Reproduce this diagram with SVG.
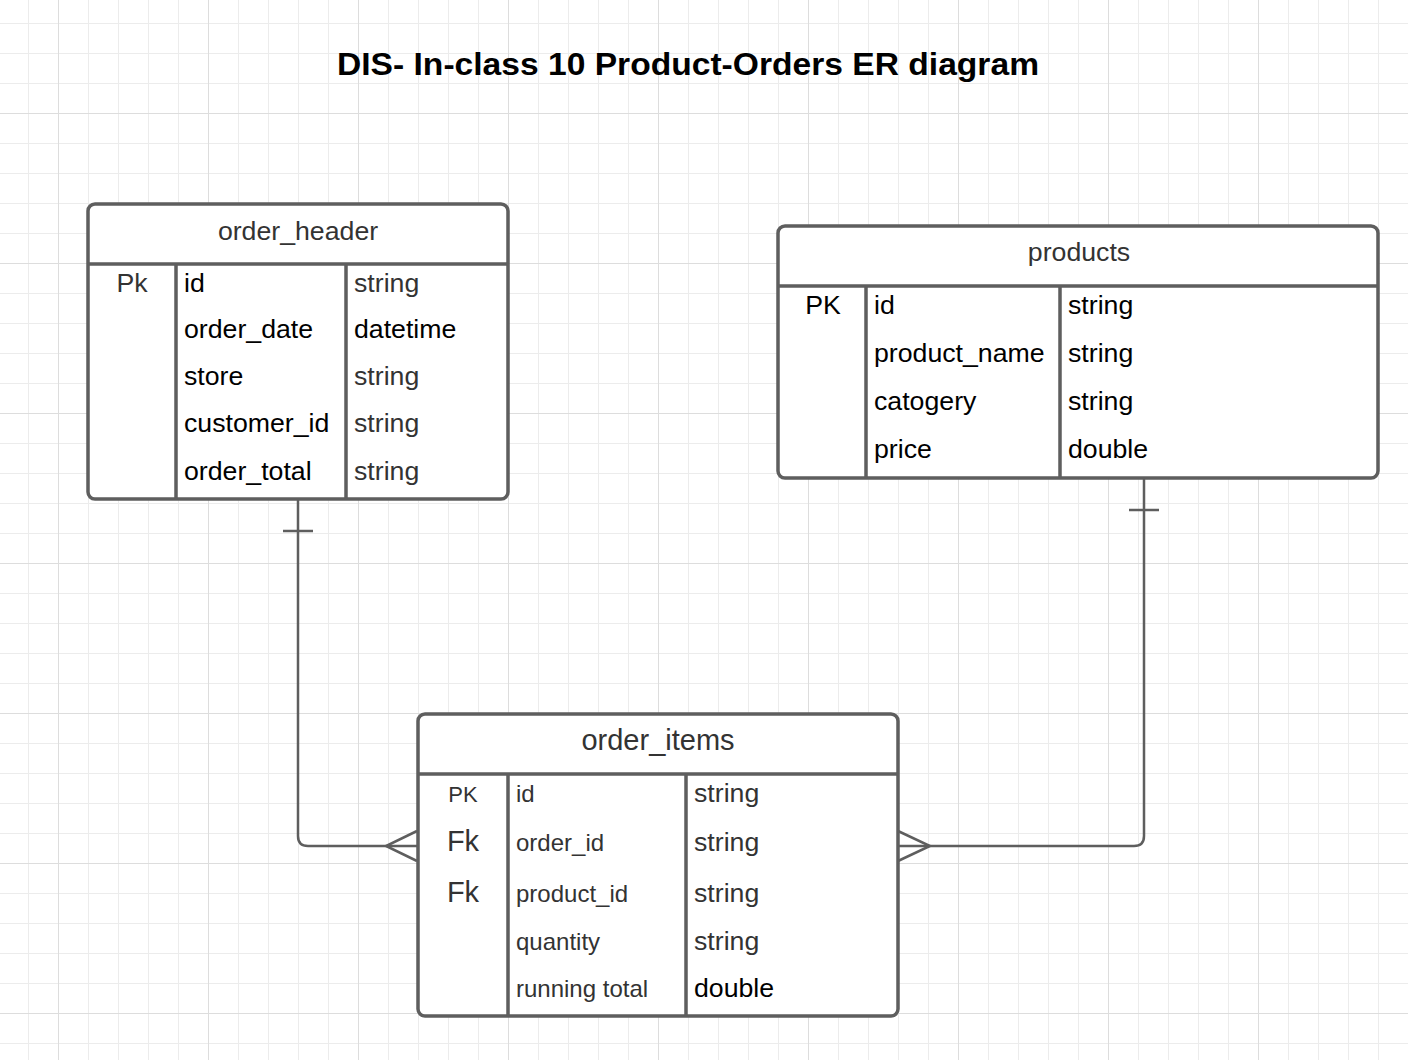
<svg xmlns="http://www.w3.org/2000/svg" width="1408" height="1060" viewBox="0 0 1408 1060">
<defs>
<pattern id="minor" patternUnits="userSpaceOnUse" x="28" y="23" width="30" height="30">
<path d="M0.5 0V30M0 0.5H30" stroke="#ececec" stroke-width="1" fill="none"/>
</pattern>
<pattern id="major" patternUnits="userSpaceOnUse" x="58" y="113" width="150" height="150">
<path d="M0.5 0V150M0 0.5H150" stroke="#dddddd" stroke-width="1" fill="none"/>
</pattern>
<style>
text{font-family:"Liberation Sans",Arial,sans-serif;}
.box{fill:#fff;stroke:#5e5e5e;stroke-width:3.5;}
.ln{stroke:#5e5e5e;stroke-width:3.5;fill:none;}
.cn{stroke:#5e5e5e;stroke-width:2.5;fill:none;}
.hd{font-size:26.7px;fill:#333;text-anchor:middle;}
.r{font-size:26.7px;fill:#000;}
.g{font-size:26.7px;fill:#333;}
.k{text-anchor:middle;}
.s{font-size:24px;fill:#333;}
</style>
</defs>
<rect width="1408" height="1060" fill="#fff"/>
<rect width="1408" height="1060" fill="url(#minor)"/>
<rect width="1408" height="1060" fill="url(#major)"/>
<text x="688" y="75" font-size="32" font-weight="bold" text-anchor="middle" fill="#000" textLength="702" lengthAdjust="spacingAndGlyphs">DIS- In-class 10 Product-Orders ER diagram</text>
<g id="connectors">
<path class="cn" d="M298 499V836Q298 846 308 846H417"/>
<path class="cn" d="M283 531H313"/>
<path class="cn" d="M417 831L386 846L417 861"/>
<path class="cn" d="M1144 478V836Q1144 846 1134 846H898"/>
<path class="cn" d="M1129 510H1159"/>
<path class="cn" d="M898 831L930 846L898 861"/>
</g>
<g id="order_header">
<rect class="box" x="88" y="204" width="420" height="295" rx="7"/>
<path class="ln" d="M88 264H508M176 264V499M346 264V499"/>
<text class="hd" x="298" y="240">order_header</text>
<text class="g k" x="132" y="292">Pk</text>
<text class="r" x="184" y="292">id</text>
<text class="r" x="184" y="338">order_date</text>
<text class="r" x="184" y="385">store</text>
<text class="r" x="184" y="432">customer_id</text>
<text class="r" x="184" y="480">order_total</text>
<text class="g" x="354" y="292">string</text>
<text class="r" x="354" y="338">datetime</text>
<text class="g" x="354" y="385">string</text>
<text class="g" x="354" y="432">string</text>
<text class="g" x="354" y="480">string</text>
</g>
<g id="products">
<rect class="box" x="778" y="226" width="600" height="252" rx="7"/>
<path class="ln" d="M778 286H1378M866 286V478M1060 286V478"/>
<text class="hd" x="1079" y="261">products</text>
<text class="r k" x="823" y="314">PK</text>
<text class="r" x="874" y="314">id</text>
<text class="r" x="874" y="362">product_name</text>
<text class="r" x="874" y="410">catogery</text>
<text class="r" x="874" y="458">price</text>
<text class="r" x="1068" y="314">string</text>
<text class="r" x="1068" y="362">string</text>
<text class="r" x="1068" y="410">string</text>
<text class="r" x="1068" y="458">double</text>
</g>
<g id="order_items">
<rect class="box" x="418" y="714" width="480" height="302" rx="7"/>
<path class="ln" d="M418 774H898M508 774V1016M686 774V1016"/>
<text x="658" y="750" font-size="29" fill="#333" text-anchor="middle">order_items</text>
<text x="463" y="802" font-size="22" fill="#333" text-anchor="middle">PK</text>
<text x="463" y="851" font-size="29" fill="#333" text-anchor="middle">Fk</text>
<text x="463" y="902" font-size="29" fill="#333" text-anchor="middle">Fk</text>
<text class="s" x="516" y="802" font-size="24">id</text>
<text class="s" x="516" y="851">order_id</text>
<text class="s" x="516" y="902">product_id</text>
<text class="s" x="516" y="950">quantity</text>
<text class="s" x="516" y="997">running total</text>
<text class="g" x="694" y="802">string</text>
<text class="g" x="694" y="851">string</text>
<text class="g" x="694" y="902">string</text>
<text class="g" x="694" y="950">string</text>
<text class="r" x="694" y="997">double</text>
</g>
</svg>
